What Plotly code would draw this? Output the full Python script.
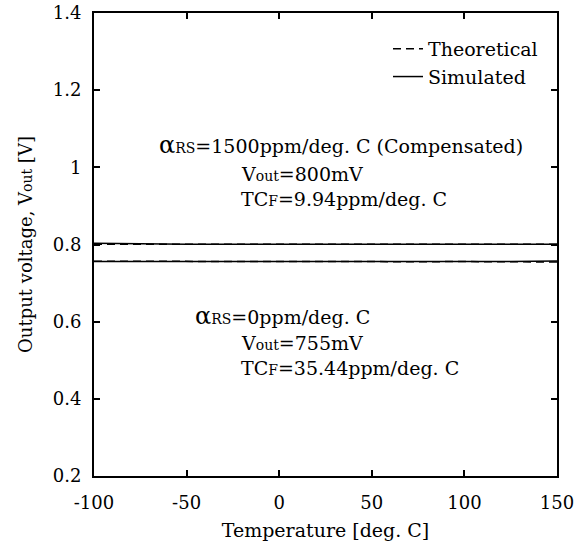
import plotly.graph_objects as go

temps = [-100, -75, -50, -25, 0, 25, 50, 75, 100, 125, 150]
theo_comp = [0.8008, 0.8008, 0.8008, 0.8008, 0.8008, 0.8008, 0.8008, 0.8008, 0.8008, 0.8008, 0.8008]
sim_comp = [0.8030, 0.8015, 0.8007, 0.8006, 0.8006, 0.8006, 0.8006, 0.8007, 0.8007, 0.8007, 0.8008]
theo_unc = [0.7566, 0.7562, 0.7557, 0.7553, 0.7550, 0.7550, 0.7552, 0.7555, 0.7557, 0.7553, 0.7546]
sim_unc = [0.7558, 0.7556, 0.7554, 0.7555, 0.7556, 0.7556, 0.7556, 0.7555, 0.7556, 0.7559, 0.7570]

xticks = [-100, -50, 0, 50, 100, 150]
yticks = [0.2, 0.4, 0.6, 0.8, 1.0, 1.2, 1.4]
ylabels = ["0.2", "0.4", "0.6", "0.8", "1", "1.2", "1.4"]

FONT = "DejaVu Serif"
TICK_FS = 18
ANN_FS = 19
SM = 14
DASH = "8px,5px"

fig = go.Figure()
fig.add_trace(go.Scatter(x=temps, y=theo_comp, mode="lines", name="Theoretical",
                         line=dict(color="black", width=1.5, dash=DASH), legendgroup="t"))
fig.add_trace(go.Scatter(x=temps, y=sim_comp, mode="lines", name="Simulated",
                         line=dict(color="black", width=1.5), legendgroup="s"))
fig.add_trace(go.Scatter(x=temps, y=theo_unc, mode="lines", name="Theoretical",
                         line=dict(color="black", width=1.5, dash=DASH), showlegend=False, legendgroup="t"))
fig.add_trace(go.Scatter(x=temps, y=sim_unc, mode="lines", name="Simulated",
                         line=dict(color="black", width=1.5), showlegend=False, legendgroup="s"))

def sm(t):
    return f'<span style="font-size:{SM}px">{t}</span>'

alpha = '<span style="font-size:24px">α</span>'
annots = [
    (157, 145, alpha + sm("RS") + "=1500ppm/deg. C (Compensated)"),
    (239, 174, "V" + sm("out") + "=800mV"),
    (239, 199, "TC" + sm("F") + "=9.94ppm/deg. C"),
    (193, 316, alpha + sm("RS") + "=0ppm/deg. C"),
    (239, 343, "V" + sm("out") + "=755mV"),
    (239, 368, "TC" + sm("F") + "=35.44ppm/deg. C"),
]
W, H = 586, 543
L, R, T, B = 94, 29, 13, 67
pw, ph = W - L - R, H - T - B
for px, py, txt in annots:
    fig.add_annotation(x=(px - L) / pw, y=1 - (py - T) / ph, xref="paper", yref="paper",
                       xanchor="left", yanchor="middle", text=txt, showarrow=False,
                       font=dict(family=FONT, size=ANN_FS, color="black"))

axis_common = dict(showline=True, linecolor="black", linewidth=2, mirror="ticks",
                   ticks="inside", ticklen=6, tickwidth=2, tickcolor="black",
                   showgrid=False, zeroline=False, automargin=False,
                   tickfont=dict(family=FONT, size=TICK_FS, color="black"))
fig.update_xaxes(range=[-100, 150], tickvals=xticks, ticktext=[str(v) for v in xticks],
                 ticklabelstandoff=9,
                 title=dict(text="Temperature [deg. C]", font=dict(family=FONT, size=19, color="black"), standoff=12),
                 **axis_common)
fig.update_yaxes(range=[0.2, 1.4], tickvals=yticks, ticktext=ylabels,
                 ticklabelstandoff=7,
                 title=dict(text="Output voltage, V" + sm("out") + " [V]", font=dict(family=FONT, size=18, color="black"), standoff=15),
                 **axis_common)
fig.update_layout(width=W, height=H, margin=dict(l=L, r=R, t=T, b=B, autoexpand=False),
                  plot_bgcolor="white", paper_bgcolor="white",
                  font=dict(family=FONT, size=TICK_FS, color="black"),
                  legend=dict(x=(388 - L) / pw, y=1 - (30 - T) / ph, xanchor="left", yanchor="top",
                              bgcolor="rgba(0,0,0,0)", font=dict(family=FONT, size=19, color="black"),
                              traceorder="normal", tracegroupgap=0))
fig.write_html("out.html")
